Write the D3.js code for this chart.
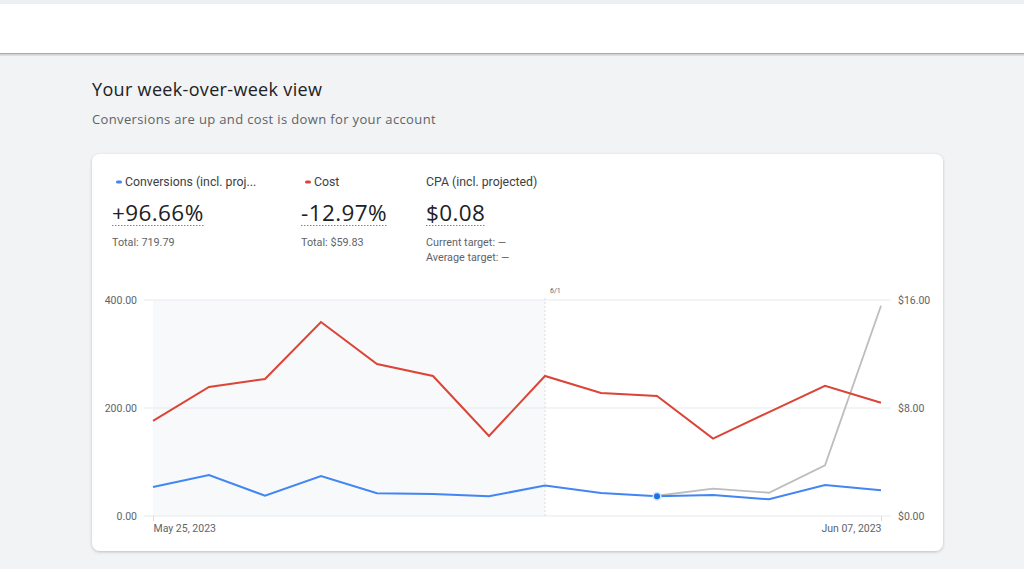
<!DOCTYPE html>
<html><head><meta charset="utf-8">
<script src="https://cdn.jsdelivr.net/npm/d3@7"></script>
<style>
html,body{margin:0;padding:0;background:#f1f3f4;font-family:Roboto,"Noto Sans",sans-serif;}
svg{display:block;}
.gs{font-family:"Open Sans","Noto Sans",sans-serif;}
</style></head>
<body>
<svg id="c" width="1024" height="569"></svg>
<script>
// ---- data ----
const dates = ["2023-05-25","2023-05-26","2023-05-27","2023-05-28","2023-05-29","2023-05-30","2023-05-31",
               "2023-06-01","2023-06-02","2023-06-03","2023-06-04","2023-06-05","2023-06-06","2023-06-07"];
const conversions = [53.7,75.9,37.6,74.1,42.0,40.7,36.5,56.5,42.6,36.5,38.9,30.9,57.4,47.6];
const cost = [7.04,9.56,10.15,14.37,11.26,10.37,5.93,10.37,9.11,8.89,5.73,7.70,9.65,8.39];
const projectedDates = ["2023-06-03","2023-06-04","2023-06-05","2023-06-06","2023-06-07"];
const projected = [37.5,50.6,43.1,93.9,389.4];
const leftTicks = [0,200,400];
const rightTicks = [0,8,16];
const splitDate = "2023-06-01";
const splitLabel = "6/1";
const markerDate = "2023-06-03";
const metrics = [
  {label:"Conversions (incl. proj...", value:"+96.66%", sub:["Total: 719.79"], color:"#4285f4"},
  {label:"Cost", value:"-12.97%", sub:["Total: $59.83"], color:"#db4437"},
  {label:"CPA (incl. projected)", value:"$0.08", sub:["Current target: \u2014","Average target: \u2014"], color:null}
];

const svg = d3.select("#c");
const parse = d3.timeParse("%Y-%m-%d");

// defs: shadow
const defs = svg.append("defs");
const f = defs.append("filter").attr("id","sh").attr("x","-5%").attr("y","-5%").attr("width","110%").attr("height","115%");
f.append("feDropShadow").attr("dx",0).attr("dy",1).attr("stdDeviation",1.5).attr("flood-color","#3c4043").attr("flood-opacity",0.3);

// top bar
svg.append("rect").attr("x",0).attr("y",0).attr("width",1024).attr("height",4).attr("fill","#eceff1");
svg.append("rect").attr("x",0).attr("y",4).attr("width",1024).attr("height",49).attr("fill","#fff");
svg.append("rect").attr("x",0).attr("y",53).attr("width",1024).attr("height",1.5).attr("fill","#a8a9ab");
svg.append("rect").attr("x",0).attr("y",54.5).attr("width",1024).attr("height",1.5).attr("fill","#dadce0");

// heading
svg.append("text").attr("class","gs").attr("x",92).attr("y",96).attr("font-size",18).attr("letter-spacing",0.33)
  .attr("fill","#202124").text("Your week-over-week view");
svg.append("text").attr("class","gs").attr("x",92).attr("y",124).attr("font-size",13).attr("letter-spacing",0.36)
  .attr("fill","#5f6368").text("Conversions are up and cost is down for your account");

// card
svg.append("rect").attr("x",92).attr("y",154).attr("width",851).attr("height",397).attr("rx",8)
  .attr("fill","#fff").attr("filter","url(#sh)");

// metrics
const mx = [112,301,426];
metrics.forEach((m,i)=>{
  const g = svg.append("g");
  let tx = mx[i];
  if(m.color){
    g.append("rect").attr("x",mx[i]+4).attr("y",180.5).attr("width",6).attr("height",3).attr("rx",1.5).attr("fill",m.color);
    tx = mx[i]+13;
  }
  g.append("text").attr("x",tx).attr("y",186).attr("font-size",12.3).attr("fill","#3c4043").text(m.label);
  const v = g.append("text").attr("class","gs").attr("x",mx[i]).attr("y",221).attr("font-size",22.5)
    .attr("letter-spacing",0.4).attr("fill","#202124").text(m.value);
  const w = v.node().getComputedTextLength();
  g.append("line").attr("x1",mx[i]).attr("x2",mx[i]+w).attr("y1",225.5).attr("y2",225.5)
    .attr("stroke","#80868b").attr("stroke-width",1).attr("stroke-dasharray","1.5,1.5");
  m.sub.forEach((s,j)=>{
    g.append("text").attr("x",mx[i]).attr("y",246+j*14.5).attr("font-size",10.8).attr("fill","#5f6368").text(s);
  });
});

// chart scales
const x = d3.scaleTime().domain([parse(dates[0]),parse(dates[dates.length-1])]).range([153,881]);
const yL = d3.scaleLinear().domain([0,400]).range([516,300]);
const yR = d3.scaleLinear().domain([0,16]).range([516,300]);

// shaded previous period
svg.append("rect").attr("x",x(parse(dates[0]))).attr("y",yL(400))
  .attr("width",x(parse(splitDate))-x(parse(dates[0]))).attr("height",yL(0)-yL(400)).attr("fill","#f8f9fa");

// gridlines
svg.append("g").selectAll("line").data(leftTicks).join("line")
  .attr("x1",144).attr("x2",891).attr("y1",d=>yL(d)).attr("y2",d=>yL(d))
  .attr("stroke","#e8eaed").attr("stroke-width",1.2);

// left axis labels
const axL = svg.append("g").attr("transform","translate(153,0)")
  .call(d3.axisLeft(yL).tickValues(leftTicks).tickFormat(d3.format(".2f")).tickSize(0).tickPadding(16));
axL.select(".domain").remove();
axL.selectAll("text").attr("font-family","Roboto,sans-serif").attr("font-size",10.5).attr("fill","#5f6368");

// right axis labels
const axR = svg.append("g").attr("transform","translate(881,0)")
  .call(d3.axisRight(yR).tickValues(rightTicks).tickFormat(d=>"$"+d3.format(".2f")(d)).tickSize(0).tickPadding(17));
axR.select(".domain").remove();
axR.selectAll("text").attr("font-family","Roboto,sans-serif").attr("font-size",10.5).attr("fill","#5f6368");

// x axis
const xt = [parse(dates[0]),parse(dates[dates.length-1])];
const axX = svg.append("g").attr("transform","translate(0,516)")
  .call(d3.axisBottom(x).tickValues(xt).tickFormat(d3.timeFormat("%b %d, %Y")).tickSize(5).tickPadding(4));
axX.select(".domain").remove();
axX.selectAll("line").attr("stroke","#dadce0");
axX.selectAll("text").attr("font-family","Roboto,sans-serif").attr("font-size",10.5).attr("fill","#5f6368");
axX.selectAll("text").attr("text-anchor",(d,i)=>i===0?"start":"end");

// split line
const sx = x(parse(splitDate));
svg.append("line").attr("x1",sx).attr("x2",sx).attr("y1",298).attr("y2",516)
  .attr("stroke","#dadce0").attr("stroke-width",1).attr("stroke-dasharray","2,2");
svg.append("text").attr("x",sx+5).attr("y",293).attr("font-size",7).attr("fill","#5f6368").text(splitLabel);

// lines
const lineL = d3.line().x(d=>x(parse(d[0]))).y(d=>yL(d[1]));
const lineR = d3.line().x(d=>x(parse(d[0]))).y(d=>yR(d[1]));
svg.append("path").attr("d",lineL(projectedDates.map((d,i)=>[d,projected[i]])))
  .attr("fill","none").attr("stroke","#bdbdbd").attr("stroke-width",1.8);
svg.append("path").attr("d",lineR(dates.map((d,i)=>[d,cost[i]])))
  .attr("fill","none").attr("stroke","#db4437").attr("stroke-width",2);
svg.append("path").attr("d",lineL(dates.map((d,i)=>[d,conversions[i]])))
  .attr("fill","none").attr("stroke","#4285f4").attr("stroke-width",2);

// marker
const mi = dates.indexOf(markerDate);
svg.append("circle").attr("cx",x(parse(markerDate))).attr("cy",yL(conversions[mi])).attr("r",4.5).attr("fill","#d2e3fc");
svg.append("circle").attr("cx",x(parse(markerDate))).attr("cy",yL(conversions[mi])).attr("r",3).attr("fill","#1a73e8");
</script>
</body></html>
